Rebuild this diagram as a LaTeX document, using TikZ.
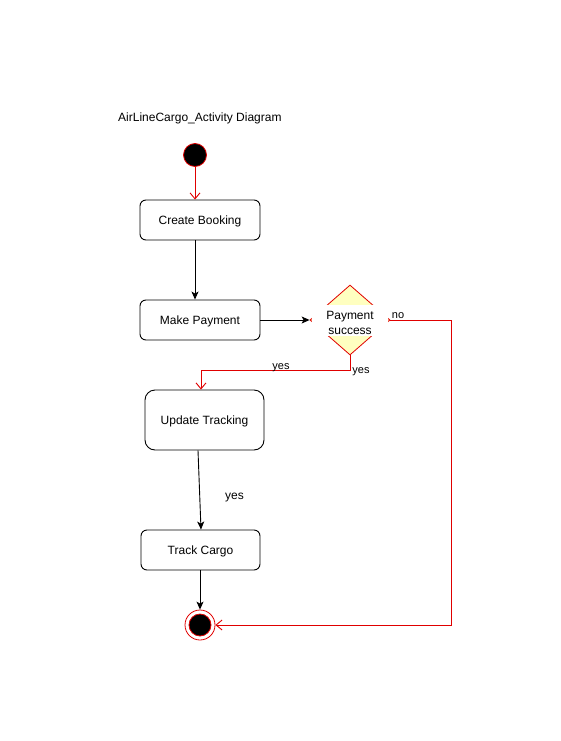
\documentclass[tikz,border=0pt]{standalone}
\usepackage{fontspec}
\setmainfont{Liberation Sans}
\usetikzlibrary{arrows.meta,shapes.geometric}
\definecolor{ured}{HTML}{E00000}
\definecolor{dfill}{HTML}{FFFFC0}
\begin{document}
\begin{tikzpicture}[x=1pt,y=-1pt,
  actbox/.style={draw=black,line width=0.9pt,rounded corners=6pt,fill=white,minimum width=120pt,minimum height=40pt,inner sep=0pt,text height=10.5pt,text depth=1pt,font=\fontsize{12}{14}\selectfont},
  redline/.style={draw=ured,line width=0.9pt,-{Straight Barb[length=6pt,width=10pt,line width=0.9pt]}},
  blkline/.style={draw=black,line width=0.9pt,-{Stealth[length=8pt,width=7pt,inset=2pt]}},
  elab/.style={font=\fontsize{11}{13}\selectfont,inner sep=0pt}
]
\useasboundingbox (0,0) rectangle (561,741);
\node[anchor=west,font=\fontsize{12}{14}\selectfont,inner sep=0pt] (title) at (118,118) {AirLineCargo\_Activity Diagram};
\node[circle,draw=ured,fill=black,line width=0.8pt,minimum size=23pt,inner sep=0pt] (start) at (195,155) {};
\node[actbox] (cb) at (200,220) {Create Booking};
\node[actbox] (mp) at (200,320) {Make Payment};
\node[diamond,draw=ured,fill=dfill,line width=0.8pt,minimum width=80pt,minimum height=70pt,inner sep=0pt,aspect=1.143] (dec) at (350,320) {};
\node[fill=white,minimum width=76pt,minimum height=31pt,inner sep=0pt] (decbg) at (350,320.5) {};
\node[align=center,inner sep=0pt,font=\fontsize{12}{15}\selectfont] (declab) at (350,322.5) {Payment\\success};
\node[actbox,rounded corners=10pt,minimum width=119pt,minimum height=60pt] (ut) at (204.5,420) {Update Tracking};
\node[actbox,minimum width=119pt] (tc) at (200.5,550) {Track Cargo};
\node[circle,draw=ured,line width=0.8pt,minimum size=30pt,inner sep=0pt] (endo) at (200,625) {};
\node[circle,draw=ured,fill=black,line width=0.8pt,minimum size=22pt,inner sep=0pt] (endi) at (200,625) {};
\coordinate (nr) at (451,320);
\coordinate (nb) at (451,625);
\coordinate (yb) at (350,370);
\coordinate (yl) at (201,370);

\draw[redline] (start) -- (cb.north -| start);
\draw[blkline] ([xshift=-5pt]cb.south) -- ([xshift=-5pt]mp.north);
\draw[blkline] (mp.east) -- (dec.west);
\draw[redline] (dec.east) -- (nr) -- (nb) -- (endo.east);
\draw[redline] (dec.south) -- (yb) -- (yl) -- (yl |- ut.north);
\draw[blkline] ([xshift=-6.5pt]ut.south) -- ([xshift=0.5pt]tc.north);
\draw[blkline] ([xshift=-0.5pt]tc.south) -- (endo.north);

\node[elab] (lno) at (398,315.5) {no};
\node[elab] (lyes1) at (281,367.5) {yes};
\node[elab] (lyes2) at (361,371.5) {yes};
\node[elab,font=\fontsize{12}{14}\selectfont] (lyes3) at (234.5,497.5) {yes};
\end{tikzpicture}
\end{document}
